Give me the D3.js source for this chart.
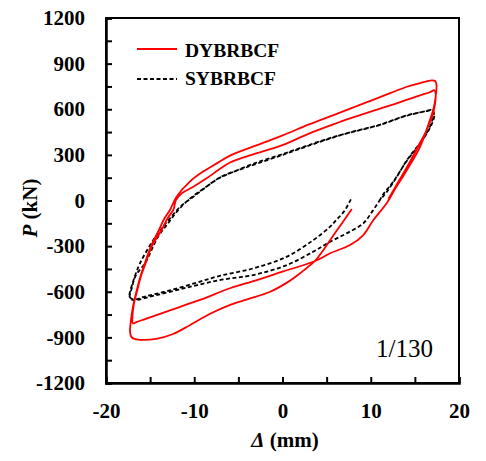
<!DOCTYPE html>
<html>
<head>
<script src="https://cdnjs.cloudflare.com/ajax/libs/d3/7.8.5/d3.min.js"></script>
<style>
  body { margin: 0; background: #fff; }
  text { font-family: "Times New Roman", "Liberation Serif", serif; }
  .tick text { font-size: 21px; font-weight: bold; }
</style>
</head>
<body>
<div id="root"></div>
<script>
// displacement (mm) / load (kN), one continuous trace per specimen
const dyCurve = [
  [7.85, -56], [6.8, -145], [5.7, -235], [4.7, -320], [3.7, -396], [2, -478], [0.5, -540], [-1.4, -600],
  [-4, -650], [-6, -688], [-8.2, -745], [-10.5, -820], [-12.4, -878], [-14.3, -910], [-15.8, -917],
  [-16.7, -912], [-17.15, -895], [-17.28, -860], [-17.2, -800], [-16.95, -700], [-16.6, -610],
  [-16.1, -500], [-15.6, -413], [-14.9, -300], [-14.0, -194], [-13.4, -120], [-12.75, -62], [-12.0, 25],
  [-10.5, 124], [-9, 190], [-7.3, 249], [-5.95, 295], [-2.5, 372], [0, 428], [3, 500],
  [6.5, 578], [9.5, 645], [12.2, 706], [14.1, 748], [15.6, 772], [16.9, 790], [17.3, 786], [17.45, 760],
  [17.35, 680], [17.1, 600], [16.7, 529], [15.6, 354], [14.1, 200], [12.8, 80], [11.8, -18],
  [10.3, -128], [9.16, -227], [7.65, -293], [5.4, -347], [3.7, -398], [0, -468], [-3, -525],
  [-5.95, -577], [-9.35, -654], [-12.75, -722], [-15.5, -778], [-16.5, -798], [-16.95, -808],
  [-17.0, -760], [-16.8, -670], [-16.5, -600], [-16.0, -490], [-15.5, -410], [-14.8, -300],
  [-13.7, -194], [-13.0, -115], [-12.37, -62], [-12.07, 3], [-11.42, 47], [-10.1, 91], [-8.6, 146],
  [-7.27, 200], [-5.95, 250], [-3, 310], [0, 364], [3, 440],
  [6.5, 516], [7.65, 540], [10, 585], [13, 640], [15.5, 690], [16.7, 712], [17.2, 725], [17.35, 705],
  [17.3, 640], [17.0, 560], [16.3, 460], [15.5, 370], [14.3, 240], [13, 110], [12, 10]
];

const syCurve = [
  [7.75, 8], [7.0, -70], [6.1, -128], [5.4, -172], [3.5, -260], [0.5, -369], [-3.3, -446],
  [-7.1, -495], [-10, -545], [-13, -595], [-15.5, -630], [-16.9, -650], [-17.35, -630],
  [-17.25, -595], [-16.8, -510], [-16.15, -413], [-14.64, -260], [-13.5, -170], [-12.5, -100],
  [-11.6, -41], [-10.1, 25], [-8.6, 91], [-7.3, 143], [-6, 178], [-5, 202], [-3, 248],
  [0, 305], [3.5, 375], [6.5, 430], [9, 468], [11, 498], [14.1, 560], [16, 585], [16.9, 595],
  [17.15, 578], [16.8, 500], [16.2, 430], [15.6, 378], [14.8, 320], [14.1, 266], [13, 160],
  [11.8, 55], [11.05, 3], [10.2, -70], [9.16, -150], [7.27, -216], [5.4, -271], [3.5, -336],
  [0.5, -424], [-3.3, -490], [-7.1, -523], [-11, -575], [-14.5, -625], [-16.9, -655],
  [-17.3, -640], [-17.1, -580], [-16.6, -490], [-15.58, -413], [-14.1, -238], [-13.1, -160],
  [-12.2, -90], [-11.2, -25], [-10, 35], [-8.6, 92], [-7.3, 145], [-6, 180], [-5, 200],
  [0, 300], [6.5, 428], [11, 496], [14.1, 558], [16.5, 590], [17.0, 592], [17.2, 565],
  [16.9, 500], [15.6, 375], [14.1, 262], [12.5, 120], [11.4, 40], [11, 0]
];

const xTicks = [-20, -15, -10, -5, 0, 5, 10, 15, 20];
const yTicks = d3.range(-1200, 1201, 150);
const seriesNames = ["DYBRBCF", "SYBRBCF"];

const W = 486, H = 461;
const svg = d3.select("#root").append("svg").attr("width", W).attr("height", H);

const x = d3.scaleLinear().domain([-20, 20]).range([106, 459]);
const y = d3.scaleLinear().domain([-1200, 1200]).range([383, 18]);

// frame
svg.append("rect")
  .attr("x", 106).attr("y", 18).attr("width", 353).attr("height", 365)
  .attr("fill", "none").attr("stroke", "#000").attr("stroke-width", 2);

const xAxis = svg.append("g").attr("transform", "translate(0,383)")
  .call(d3.axisBottom(x).tickValues(xTicks).tickSize(-6).tickPadding(20)
    .tickFormat(d => d % 10 === 0 ? String(d) : ""));
const yAxis = svg.append("g").attr("transform", "translate(106,0)")
  .call(d3.axisLeft(y).tickValues(yTicks).tickSize(-6).tickPadding(21)
    .tickFormat(d => d % 300 === 0 ? String(d) : ""));

[xAxis, yAxis].forEach(g => {
  g.select(".domain").attr("stroke-width", 2.5);
  g.selectAll(".tick line").attr("stroke-width", 2);
  g.selectAll(".tick text").attr("fill", "#000");
});

const line = d3.line().x(d => x(d[0])).y(d => y(d[1])).curve(d3.curveCatmullRom.alpha(0.5));

svg.append("path").datum(syCurve)
  .attr("d", line).attr("fill", "none").attr("stroke", "#000")
  .attr("stroke-width", 1.8).attr("stroke-dasharray", "4,2.5");

svg.append("path").datum(dyCurve)
  .attr("d", line).attr("fill", "none").attr("stroke", "#ff0000")
  .attr("stroke-width", 1.8);

// legend
const leg = svg.append("g");
leg.append("line").attr("x1", 137).attr("x2", 177).attr("y1", 49).attr("y2", 49)
  .attr("stroke", "#ff0000").attr("stroke-width", 1.8);
leg.append("line").attr("x1", 137).attr("x2", 177).attr("y1", 79).attr("y2", 79)
  .attr("stroke", "#000").attr("stroke-width", 1.8).attr("stroke-dasharray", "4,2.5");
leg.selectAll("text").data(seriesNames).join("text")
  .attr("x", 185).attr("y", (d, i) => 57 + i * 28)
  .attr("font-size", 19.5).attr("font-weight", "bold").text(d => d);

// drift label
svg.append("text").attr("x", 433).attr("y", 357).attr("text-anchor", "end")
  .attr("font-size", 25).text("1/130");

// axis titles
const yt = svg.append("text").attr("transform", "translate(37,208) rotate(-90)")
  .attr("text-anchor", "middle").attr("font-size", 21).attr("font-weight", "bold");
yt.append("tspan").attr("font-style", "italic").text("P");
yt.append("tspan").text(" (kN)");

const xt = svg.append("text").attr("x", 285).attr("y", 447)
  .attr("text-anchor", "middle").attr("font-size", 21).attr("font-weight", "bold");
xt.append("tspan").attr("font-style", "italic").text("Δ");
xt.append("tspan").text(" (mm)");
</script>
</body>
</html>
